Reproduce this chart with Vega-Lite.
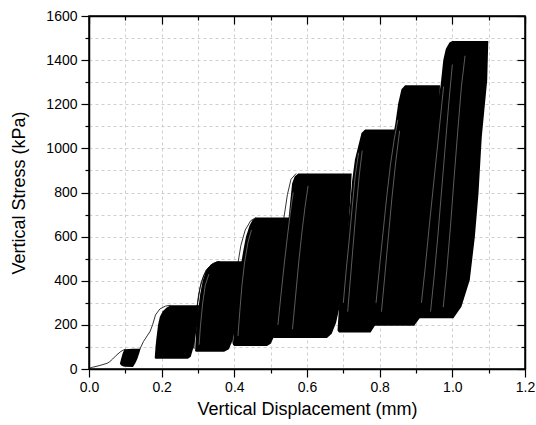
{
  "$schema": "https://vega.github.io/schema/vega-lite/v6.json",
  "width": 436,
  "height": 353,
  "autosize": {"type": "none"},
  "padding": {"left": 89, "top": 16, "right": 11, "bottom": 56},
  "background": "white",
  "config": {
    "view": {"stroke": "black", "strokeWidth": 1.5},
    "font": "Liberation Sans",
    "axis": {
      "labelFont": "Liberation Sans",
      "titleFont": "Liberation Sans",
      "labelColor": "black",
      "titleColor": "black",
      "tickColor": "black",
      "domainColor": "black",
      "domainWidth": 1.5,
      "tickWidth": 1.2,
      "labelFontSize": 14,
      "titleFontSize": 18,
      "titleFontWeight": "normal",
      "labelFlush": false,
      "labelOverlap": false,
      "labelBound": false
    }
  },
  "datasets": {
    "blobs": [
      {"stage": "s1", "x": 0.085, "lo": 24, "hi": 24},
      {"stage": "s1", "x": 0.089, "lo": 16, "hi": 50},
      {"stage": "s1", "x": 0.093, "lo": 12, "hi": 72},
      {"stage": "s1", "x": 0.098, "lo": 10, "hi": 90},
      {"stage": "s1", "x": 0.121, "lo": 9, "hi": 92},
      {"stage": "s1", "x": 0.127, "lo": 25, "hi": 92},
      {"stage": "s1", "x": 0.133, "lo": 45, "hi": 92},
      {"stage": "s1", "x": 0.138, "lo": 70, "hi": 92},
      {"stage": "s1", "x": 0.142, "lo": 92, "hi": 92},
      {"stage": "s2", "x": 0.181, "lo": 50, "hi": 50},
      {"stage": "s2", "x": 0.183, "lo": 46, "hi": 100},
      {"stage": "s2", "x": 0.186, "lo": 46, "hi": 146},
      {"stage": "s2", "x": 0.190, "lo": 46, "hi": 200},
      {"stage": "s2", "x": 0.195, "lo": 46, "hi": 237},
      {"stage": "s2", "x": 0.203, "lo": 46, "hi": 262},
      {"stage": "s2", "x": 0.213, "lo": 46, "hi": 278},
      {"stage": "s2", "x": 0.225, "lo": 46, "hi": 289},
      {"stage": "s2", "x": 0.272, "lo": 46, "hi": 289},
      {"stage": "s2", "x": 0.280, "lo": 55, "hi": 289},
      {"stage": "s2", "x": 0.286, "lo": 90, "hi": 289},
      {"stage": "s2", "x": 0.291, "lo": 130, "hi": 289},
      {"stage": "s2", "x": 0.296, "lo": 180, "hi": 289},
      {"stage": "s2", "x": 0.300, "lo": 230, "hi": 289},
      {"stage": "s2", "x": 0.303, "lo": 289, "hi": 289},
      {"stage": "s3", "x": 0.292, "lo": 82, "hi": 82},
      {"stage": "s3", "x": 0.295, "lo": 78, "hi": 180},
      {"stage": "s3", "x": 0.300, "lo": 78, "hi": 260},
      {"stage": "s3", "x": 0.306, "lo": 78, "hi": 340},
      {"stage": "s3", "x": 0.313, "lo": 78, "hi": 400},
      {"stage": "s3", "x": 0.322, "lo": 78, "hi": 445},
      {"stage": "s3", "x": 0.335, "lo": 78, "hi": 472},
      {"stage": "s3", "x": 0.352, "lo": 78, "hi": 488},
      {"stage": "s3", "x": 0.372, "lo": 78, "hi": 488},
      {"stage": "s3", "x": 0.385, "lo": 90, "hi": 488},
      {"stage": "s3", "x": 0.395, "lo": 130, "hi": 488},
      {"stage": "s3", "x": 0.405, "lo": 200, "hi": 488},
      {"stage": "s3", "x": 0.413, "lo": 280, "hi": 488},
      {"stage": "s3", "x": 0.420, "lo": 360, "hi": 488},
      {"stage": "s3", "x": 0.426, "lo": 430, "hi": 488},
      {"stage": "s3", "x": 0.430, "lo": 488, "hi": 488},
      {"stage": "s4", "x": 0.396, "lo": 110, "hi": 110},
      {"stage": "s4", "x": 0.400, "lo": 104, "hi": 200},
      {"stage": "s4", "x": 0.405, "lo": 104, "hi": 300},
      {"stage": "s4", "x": 0.411, "lo": 104, "hi": 390},
      {"stage": "s4", "x": 0.418, "lo": 104, "hi": 470},
      {"stage": "s4", "x": 0.424, "lo": 104, "hi": 530},
      {"stage": "s4", "x": 0.432, "lo": 104, "hi": 600},
      {"stage": "s4", "x": 0.442, "lo": 104, "hi": 650},
      {"stage": "s4", "x": 0.450, "lo": 104, "hi": 675},
      {"stage": "s4", "x": 0.460, "lo": 104, "hi": 687},
      {"stage": "s4", "x": 0.490, "lo": 104, "hi": 687},
      {"stage": "s4", "x": 0.500, "lo": 115, "hi": 687},
      {"stage": "s4", "x": 0.510, "lo": 150, "hi": 687},
      {"stage": "s4", "x": 0.520, "lo": 220, "hi": 687},
      {"stage": "s4", "x": 0.530, "lo": 300, "hi": 687},
      {"stage": "s4", "x": 0.538, "lo": 390, "hi": 687},
      {"stage": "s4", "x": 0.546, "lo": 500, "hi": 687},
      {"stage": "s4", "x": 0.552, "lo": 600, "hi": 687},
      {"stage": "s4", "x": 0.557, "lo": 687, "hi": 687},
      {"stage": "s5", "x": 0.505, "lo": 148, "hi": 148},
      {"stage": "s5", "x": 0.508, "lo": 140, "hi": 230},
      {"stage": "s5", "x": 0.514, "lo": 140, "hi": 310},
      {"stage": "s5", "x": 0.522, "lo": 140, "hi": 400},
      {"stage": "s5", "x": 0.532, "lo": 140, "hi": 500},
      {"stage": "s5", "x": 0.541, "lo": 140, "hi": 580},
      {"stage": "s5", "x": 0.548, "lo": 140, "hi": 660},
      {"stage": "s5", "x": 0.554, "lo": 140, "hi": 760},
      {"stage": "s5", "x": 0.559, "lo": 140, "hi": 841},
      {"stage": "s5", "x": 0.566, "lo": 140, "hi": 872},
      {"stage": "s5", "x": 0.576, "lo": 140, "hi": 886},
      {"stage": "s5", "x": 0.655, "lo": 140, "hi": 886},
      {"stage": "s5", "x": 0.668, "lo": 160, "hi": 886},
      {"stage": "s5", "x": 0.680, "lo": 210, "hi": 886},
      {"stage": "s5", "x": 0.692, "lo": 300, "hi": 886},
      {"stage": "s5", "x": 0.702, "lo": 420, "hi": 886},
      {"stage": "s5", "x": 0.710, "lo": 550, "hi": 886},
      {"stage": "s5", "x": 0.716, "lo": 680, "hi": 886},
      {"stage": "s5", "x": 0.720, "lo": 790, "hi": 886},
      {"stage": "s5", "x": 0.723, "lo": 886, "hi": 886},
      {"stage": "s6", "x": 0.684, "lo": 175, "hi": 175},
      {"stage": "s6", "x": 0.688, "lo": 166, "hi": 280},
      {"stage": "s6", "x": 0.695, "lo": 166, "hi": 386},
      {"stage": "s6", "x": 0.703, "lo": 166, "hi": 500},
      {"stage": "s6", "x": 0.711, "lo": 166, "hi": 613},
      {"stage": "s6", "x": 0.718, "lo": 166, "hi": 730},
      {"stage": "s6", "x": 0.724, "lo": 166, "hi": 850},
      {"stage": "s6", "x": 0.732, "lo": 166, "hi": 950},
      {"stage": "s6", "x": 0.741, "lo": 166, "hi": 1010},
      {"stage": "s6", "x": 0.750, "lo": 166, "hi": 1070},
      {"stage": "s6", "x": 0.760, "lo": 166, "hi": 1085},
      {"stage": "s6", "x": 0.775, "lo": 166, "hi": 1085},
      {"stage": "s6", "x": 0.788, "lo": 200, "hi": 1085},
      {"stage": "s6", "x": 0.800, "lo": 280, "hi": 1085},
      {"stage": "s6", "x": 0.812, "lo": 400, "hi": 1085},
      {"stage": "s6", "x": 0.822, "lo": 540, "hi": 1085},
      {"stage": "s6", "x": 0.830, "lo": 700, "hi": 1085},
      {"stage": "s6", "x": 0.836, "lo": 850, "hi": 1085},
      {"stage": "s6", "x": 0.840, "lo": 970, "hi": 1085},
      {"stage": "s6", "x": 0.842, "lo": 1085, "hi": 1085},
      {"stage": "s7", "x": 0.774, "lo": 205, "hi": 205},
      {"stage": "s7", "x": 0.779, "lo": 196, "hi": 300},
      {"stage": "s7", "x": 0.790, "lo": 196, "hi": 461},
      {"stage": "s7", "x": 0.800, "lo": 196, "hi": 600},
      {"stage": "s7", "x": 0.809, "lo": 196, "hi": 740},
      {"stage": "s7", "x": 0.818, "lo": 196, "hi": 870},
      {"stage": "s7", "x": 0.828, "lo": 196, "hi": 980},
      {"stage": "s7", "x": 0.836, "lo": 196, "hi": 1050},
      {"stage": "s7", "x": 0.843, "lo": 196, "hi": 1110},
      {"stage": "s7", "x": 0.851, "lo": 196, "hi": 1203},
      {"stage": "s7", "x": 0.860, "lo": 196, "hi": 1268},
      {"stage": "s7", "x": 0.870, "lo": 196, "hi": 1286},
      {"stage": "s7", "x": 0.895, "lo": 196, "hi": 1286},
      {"stage": "s7", "x": 0.910, "lo": 230, "hi": 1286},
      {"stage": "s7", "x": 0.925, "lo": 330, "hi": 1286},
      {"stage": "s7", "x": 0.938, "lo": 480, "hi": 1286},
      {"stage": "s7", "x": 0.948, "lo": 680, "hi": 1286},
      {"stage": "s7", "x": 0.956, "lo": 880, "hi": 1286},
      {"stage": "s7", "x": 0.962, "lo": 1080, "hi": 1286},
      {"stage": "s7", "x": 0.966, "lo": 1286, "hi": 1286},
      {"stage": "s8", "x": 0.897, "lo": 240, "hi": 240},
      {"stage": "s8", "x": 0.902, "lo": 230, "hi": 330},
      {"stage": "s8", "x": 0.913, "lo": 230, "hi": 461},
      {"stage": "s8", "x": 0.922, "lo": 230, "hi": 610},
      {"stage": "s8", "x": 0.932, "lo": 230, "hi": 764},
      {"stage": "s8", "x": 0.942, "lo": 230, "hi": 920},
      {"stage": "s8", "x": 0.951, "lo": 230, "hi": 1066},
      {"stage": "s8", "x": 0.960, "lo": 230, "hi": 1200},
      {"stage": "s8", "x": 0.968, "lo": 230, "hi": 1290},
      {"stage": "s8", "x": 0.975, "lo": 230, "hi": 1400},
      {"stage": "s8", "x": 0.982, "lo": 230, "hi": 1450},
      {"stage": "s8", "x": 0.992, "lo": 230, "hi": 1480},
      {"stage": "s8", "x": 1.000, "lo": 230, "hi": 1487},
      {"stage": "s8", "x": 1.003, "lo": 230, "hi": 1487},
      {"stage": "s8", "x": 1.025, "lo": 282, "hi": 1487},
      {"stage": "s8", "x": 1.048, "lo": 403, "hi": 1487},
      {"stage": "s8", "x": 1.062, "lo": 599, "hi": 1487},
      {"stage": "s8", "x": 1.072, "lo": 796, "hi": 1487},
      {"stage": "s8", "x": 1.081, "lo": 1052, "hi": 1487},
      {"stage": "s8", "x": 1.096, "lo": 1309, "hi": 1487},
      {"stage": "s8", "x": 1.099, "lo": 1487, "hi": 1487}
    ],
    "curves": [
      {"series": "init", "x": 0.000, "y": 3},
      {"series": "init", "x": 0.010, "y": 8},
      {"series": "init", "x": 0.030, "y": 16},
      {"series": "init", "x": 0.050, "y": 26},
      {"series": "init", "x": 0.057, "y": 33},
      {"series": "init", "x": 0.065, "y": 45},
      {"series": "init", "x": 0.075, "y": 62},
      {"series": "init", "x": 0.088, "y": 80},
      {"series": "init", "x": 0.100, "y": 90},
      {"series": "t12", "x": 0.140, "y": 90},
      {"series": "t12", "x": 0.150, "y": 125},
      {"series": "t12", "x": 0.160, "y": 150},
      {"series": "t12", "x": 0.168, "y": 170},
      {"series": "t12", "x": 0.175, "y": 200},
      {"series": "t12", "x": 0.183, "y": 245},
      {"series": "t12", "x": 0.195, "y": 272},
      {"series": "t12", "x": 0.210, "y": 285},
      {"series": "t12", "x": 0.225, "y": 289},
      {"series": "s3a", "x": 0.287, "y": 95},
      {"series": "s3a", "x": 0.291, "y": 180},
      {"series": "s3a", "x": 0.296, "y": 267},
      {"series": "s3a", "x": 0.302, "y": 340},
      {"series": "s3a", "x": 0.309, "y": 395},
      {"series": "s3a", "x": 0.322, "y": 448},
      {"series": "s3a", "x": 0.340, "y": 478},
      {"series": "s3a", "x": 0.360, "y": 488},
      {"series": "s3b", "x": 0.289, "y": 90},
      {"series": "s3b", "x": 0.293, "y": 200},
      {"series": "s3b", "x": 0.299, "y": 300},
      {"series": "s3b", "x": 0.306, "y": 370},
      {"series": "s3b", "x": 0.316, "y": 425},
      {"series": "s3b", "x": 0.330, "y": 462},
      {"series": "s3b", "x": 0.350, "y": 482},
      {"series": "s4a", "x": 0.394, "y": 115},
      {"series": "s4a", "x": 0.398, "y": 250},
      {"series": "s4a", "x": 0.403, "y": 380},
      {"series": "s4a", "x": 0.410, "y": 480},
      {"series": "s4a", "x": 0.418, "y": 560},
      {"series": "s4a", "x": 0.430, "y": 630},
      {"series": "s4a", "x": 0.445, "y": 672},
      {"series": "s4a", "x": 0.460, "y": 687},
      {"series": "s5a", "x": 0.503, "y": 150},
      {"series": "s5a", "x": 0.508, "y": 280},
      {"series": "s5a", "x": 0.516, "y": 420},
      {"series": "s5a", "x": 0.526, "y": 560},
      {"series": "s5a", "x": 0.536, "y": 680},
      {"series": "s5a", "x": 0.546, "y": 790},
      {"series": "s5a", "x": 0.556, "y": 860},
      {"series": "s5a", "x": 0.570, "y": 886}
    ],
    "streaks": [
      {"series": "w3a", "x": 0.303, "y": 110},
      {"series": "w3a", "x": 0.307, "y": 200},
      {"series": "w3a", "x": 0.313, "y": 300},
      {"series": "w3a", "x": 0.320, "y": 380},
      {"series": "w3a", "x": 0.330, "y": 430},
      {"series": "w4a", "x": 0.410, "y": 150},
      {"series": "w4a", "x": 0.415, "y": 260},
      {"series": "w4a", "x": 0.421, "y": 380},
      {"series": "w4a", "x": 0.428, "y": 480},
      {"series": "w4a", "x": 0.437, "y": 570},
      {"series": "w4a", "x": 0.447, "y": 630},
      {"series": "w5a", "x": 0.520, "y": 200},
      {"series": "w5a", "x": 0.528, "y": 330},
      {"series": "w5a", "x": 0.537, "y": 470},
      {"series": "w5a", "x": 0.546, "y": 600},
      {"series": "w5a", "x": 0.555, "y": 720},
      {"series": "w5a", "x": 0.562, "y": 800},
      {"series": "w5b", "x": 0.560, "y": 180},
      {"series": "w5b", "x": 0.568, "y": 320},
      {"series": "w5b", "x": 0.577, "y": 480},
      {"series": "w5b", "x": 0.586, "y": 620},
      {"series": "w5b", "x": 0.595, "y": 740},
      {"series": "w5b", "x": 0.603, "y": 830},
      {"series": "w6a", "x": 0.700, "y": 300},
      {"series": "w6a", "x": 0.708, "y": 450},
      {"series": "w6a", "x": 0.717, "y": 600},
      {"series": "w6a", "x": 0.726, "y": 760},
      {"series": "w6a", "x": 0.733, "y": 880},
      {"series": "w6a", "x": 0.742, "y": 980},
      {"series": "w6b", "x": 0.712, "y": 260},
      {"series": "w6b", "x": 0.718, "y": 380},
      {"series": "w6b", "x": 0.726, "y": 540},
      {"series": "w6b", "x": 0.735, "y": 720},
      {"series": "w6b", "x": 0.744, "y": 880},
      {"series": "w6b", "x": 0.752, "y": 990},
      {"series": "w7a", "x": 0.790, "y": 300},
      {"series": "w7a", "x": 0.800, "y": 470},
      {"series": "w7a", "x": 0.810, "y": 630},
      {"series": "w7a", "x": 0.820, "y": 790},
      {"series": "w7a", "x": 0.830, "y": 930},
      {"series": "w7a", "x": 0.840, "y": 1040},
      {"series": "w7a", "x": 0.850, "y": 1130},
      {"series": "w7b", "x": 0.805, "y": 260},
      {"series": "w7b", "x": 0.814, "y": 420},
      {"series": "w7b", "x": 0.824, "y": 600},
      {"series": "w7b", "x": 0.834, "y": 780},
      {"series": "w7b", "x": 0.845, "y": 950},
      {"series": "w7b", "x": 0.855, "y": 1080},
      {"series": "w8a", "x": 0.915, "y": 300},
      {"series": "w8a", "x": 0.926, "y": 470},
      {"series": "w8a", "x": 0.936, "y": 640},
      {"series": "w8a", "x": 0.946, "y": 800},
      {"series": "w8a", "x": 0.956, "y": 960},
      {"series": "w8a", "x": 0.966, "y": 1120},
      {"series": "w8a", "x": 0.976, "y": 1280},
      {"series": "w8b", "x": 0.940, "y": 260},
      {"series": "w8b", "x": 0.950, "y": 420},
      {"series": "w8b", "x": 0.960, "y": 600},
      {"series": "w8b", "x": 0.970, "y": 800},
      {"series": "w8b", "x": 0.980, "y": 1000},
      {"series": "w8b", "x": 0.990, "y": 1200},
      {"series": "w8b", "x": 1.000, "y": 1380},
      {"series": "w8c", "x": 0.975, "y": 280},
      {"series": "w8c", "x": 0.985, "y": 450},
      {"series": "w8c", "x": 0.995, "y": 650},
      {"series": "w8c", "x": 1.005, "y": 870},
      {"series": "w8c", "x": 1.015, "y": 1080},
      {"series": "w8c", "x": 1.025, "y": 1280},
      {"series": "w8c", "x": 1.035, "y": 1420}
    ]
  },
  "layer": [
    {
      "data": {"name": "blobs"},
      "mark": {"type": "area", "color": "black", "orient": "vertical", "interpolate": "linear"},
      "encoding": {
        "x": {
          "field": "x", "type": "quantitative",
          "scale": {"domain": [0, 1.2], "nice": false, "zero": false},
          "axis": {
            "orient": "bottom",
            "title": "Vertical Displacement (mm)",
            "values": [0, 0.1, 0.2, 0.3, 0.4, 0.5, 0.6, 0.7, 0.8, 0.9, 1.0, 1.1, 1.2],
            "format": ".1f",
            "labelExpr": "abs(datum.value * 5 - round(datum.value * 5)) < 0.001 ? datum.label : ''",
            "tickSize": {"condition": {"test": "abs(datum.value * 5 - round(datum.value * 5)) < 0.001", "value": 8}, "value": 4},
            "labelPadding": 3,
            "titlePadding": 6,
            "grid": true,
            "gridColor": "#cfcfcf",
            "gridDash": [3, 3],
            "gridWidth": 1
          }
        },
        "y": {
          "field": "lo", "type": "quantitative",
          "scale": {"domain": [0, 1600], "nice": false, "zero": false},
          "axis": {
            "orient": "left",
            "title": "Vertical Stress (kPa)",
            "values": [0, 100, 200, 300, 400, 500, 600, 700, 800, 900, 1000, 1100, 1200, 1300, 1400, 1500, 1600],
            "format": "d",
            "labelExpr": "datum.value % 200 === 0 ? datum.label : ''",
            "tickSize": {"condition": {"test": "datum.value % 200 === 0", "value": 8}, "value": 4},
            "labelPadding": 4,
            "titlePadding": 17,
            "grid": true,
            "gridColor": "#cfcfcf",
            "gridDash": [3, 3],
            "gridWidth": 1
          }
        },
        "y2": {"field": "hi"},
        "detail": {"field": "stage", "type": "nominal"}
      }
    },
    {
      "data": {"name": "streaks"},
      "mark": {"type": "line", "color": "white", "strokeWidth": 0.6, "opacity": 0.6},
      "encoding": {
        "x": {"field": "x", "type": "quantitative", "axis": null},
        "y": {"field": "y", "type": "quantitative", "axis": null},
        "detail": {"field": "series", "type": "nominal"}
      }
    },
    {
      "data": {"name": "curves"},
      "mark": {"type": "line", "color": "black", "strokeWidth": 0.8},
      "encoding": {
        "x": {
          "field": "x", "type": "quantitative",
          "axis": {
            "orient": "top",
            "title": null,
            "labels": false,
            "values": [0, 0.1, 0.2, 0.3, 0.4, 0.5, 0.6, 0.7, 0.8, 0.9, 1.0, 1.1, 1.2],
            "tickSize": {"condition": {"test": "abs(datum.value * 5 - round(datum.value * 5)) < 0.001", "value": -8}, "value": -4},
            "grid": false
          }
        },
        "y": {
          "field": "y", "type": "quantitative",
          "axis": {
            "orient": "right",
            "title": null,
            "labels": false,
            "values": [0, 100, 200, 300, 400, 500, 600, 700, 800, 900, 1000, 1100, 1200, 1300, 1400, 1500, 1600],
            "tickSize": {"condition": {"test": "datum.value % 200 === 0", "value": -8}, "value": -4},
            "grid": false
          }
        },
        "detail": {"field": "series", "type": "nominal"}
      }
    }
  ],
  "resolve": {"axis": {"x": "independent", "y": "independent"}}
}
